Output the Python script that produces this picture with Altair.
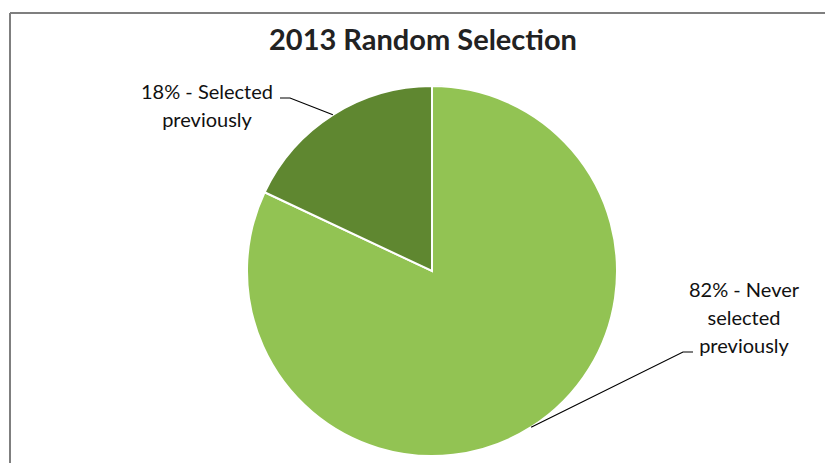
import altair as alt
import numpy as np
import pandas as pd

# ---- data ----
categories = ["Never selected previously", "Selected previously"]
values = [82, 18]
colors = ["#92C353", "#5F8730"]
label_texts = ["82% - Never\nselected\npreviously", "18% - Selected\npreviously"]
title_text = "2013 Random Selection"

# ---- layout constants ----
W, H = 825, 463
CX, CY, R = 432, 271, 185
# label anchor (first-line centre) and leader elbow, per category
label_pos = {"Never selected previously": (744, 291), "Selected previously": (207, 93)}
elbow = {"Never selected previously": [(693, 352), (683, 352)],
         "Selected previously": [(280, 98), (290, 98)]}

pie_df = pd.DataFrame({"category": categories, "value": values, "order": [0, 1]})

# leader lines: end at slice mid-angle on the rim
total = sum(values)
cum = np.cumsum(values)
rows = []
for i, (c, v) in enumerate(zip(categories, values)):
    mid = (cum[i] - v / 2) / total * 2 * np.pi
    ex, ey = CX + R * np.sin(mid), CY - R * np.cos(mid)
    pts = [elbow[c][0], elbow[c][1], (ex, ey)]
    for k, (px, py) in enumerate(pts):
        rows.append({"category": c, "k": k, "x": px, "y": py})
lines_df = pd.DataFrame(rows)

lab_df = pd.DataFrame({
    "category": categories,
    "text": label_texts,
    "x": [label_pos[c][0] for c in categories],
    "y": [label_pos[c][1] for c in categories],
})

xs = alt.Scale(domain=[0, W], range=[0, W])
ys = alt.Scale(domain=[0, H], range=[0, H])

frame_top = alt.Chart(pd.DataFrame({"a": [0]})).mark_rule(color="#7f7f7f", strokeWidth=2).encode(
    x=alt.value(10), x2=alt.value(W + 5), y=alt.value(13))
frame_left = alt.Chart(pd.DataFrame({"a": [0]})).mark_rule(color="#7f7f7f", strokeWidth=2).encode(
    x=alt.value(10), y=alt.value(13), y2=alt.value(H + 5))

shadow = alt.Chart(pd.DataFrame({"a": [1]})).mark_arc(radius=R + 2, color="#e3e3e3").encode(
    theta=alt.Theta("a:Q"), x=alt.value(CX - 1), y=alt.value(CY + 1))

pie = alt.Chart(pie_df).mark_arc(radius=R, stroke="white", strokeWidth=2).encode(
    theta=alt.Theta("value:Q", stack=True),
    order=alt.Order("order:Q"),
    color=alt.Color("category:N", scale=alt.Scale(domain=categories, range=colors), legend=None),
    x=alt.value(CX), y=alt.value(CY),
)

leaders = alt.Chart(lines_df).mark_line(color="black", strokeWidth=1.2).encode(
    x=alt.X("x:Q", scale=xs, axis=None),
    y=alt.Y("y:Q", scale=ys, axis=None),
    detail="category:N",
    order="k:Q",
)

labels = alt.Chart(lab_df).mark_text(
    font="Lato", fontSize=20, color="#111111", align="center", baseline="middle",
    lineBreak="\n", lineHeight=28).encode(
    x=alt.X("x:Q", scale=xs, axis=None),
    y=alt.Y("y:Q", scale=ys, axis=None),
    text="text:N",
)

title = alt.Chart(pd.DataFrame({"t": [title_text]})).mark_text(
    font="Lato", fontSize=29, fontWeight="bold", color="#222222", align="center", baseline="middle").encode(
    x=alt.value(423), y=alt.value(41), text="t:N")

chart = alt.layer(frame_top, frame_left, shadow, pie, leaders, labels, title).properties(
    width=W, height=H, padding=0, autosize=alt.AutoSizeParams(type="none"),
    background="white",
).configure_view(stroke=None)

chart.save("out.html", embed_options={"renderer": "svg", "actions": False})
